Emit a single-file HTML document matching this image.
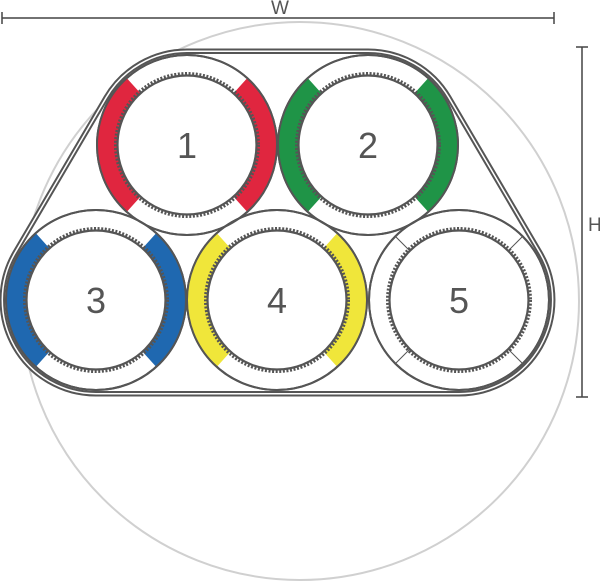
<!DOCTYPE html>
<html><head><meta charset="utf-8"><style>
html,body{margin:0;padding:0;background:#fff;}
svg{display:block;}
text{font-family:"Liberation Sans",sans-serif;fill:#555;}
</style></head><body>
<svg id="s" width="600" height="581" viewBox="0 0 600 581" xmlns="http://www.w3.org/2000/svg">
<circle cx="300" cy="301" r="279" fill="none" stroke="#d0d0d0" stroke-width="2"/>
<g id="g"></g>
<line x1="2" y1="18" x2="554" y2="18" stroke="#444" stroke-width="1.5"/>
<line x1="2" y1="12" x2="2" y2="24" stroke="#444" stroke-width="1.5"/>
<line x1="554" y1="12" x2="554" y2="24" stroke="#444" stroke-width="1.5"/>
<text x="280" y="14" font-size="19" text-anchor="middle">W</text>
<line x1="582" y1="47" x2="582" y2="397" stroke="#444" stroke-width="1.5"/>
<line x1="576" y1="47" x2="588" y2="47" stroke="#444" stroke-width="1.5"/>
<line x1="576" y1="397" x2="588" y2="397" stroke="#444" stroke-width="1.5"/>
<text x="588" y="231" font-size="19">H</text>
<text x="187" y="158" font-size="36" text-anchor="middle">1</text>
<text x="368" y="158" font-size="36" text-anchor="middle">2</text>
<text x="96" y="313" font-size="36" text-anchor="middle">3</text>
<text x="277" y="313" font-size="36" text-anchor="middle">4</text>
<text x="459" y="313" font-size="36" text-anchor="middle">5</text>
</svg>
<script>
var g=document.getElementById('g'),h='';
var C=[[187,145,'#e0263f'],[368,145,'#1f9447'],[96,300,'#1f68b0'],[277,300,'#f0e63a'],[459,300,null]];
function P(c,r,a){a=a*Math.PI/180;return (c[0]+r*Math.cos(a)).toFixed(2)+' '+(c[1]+r*Math.sin(a)).toFixed(2);}
function hull(R){
 var c1=C[0],c2=C[1],c3=C[2],c5=C[4];
 var n1=[-0.862,-0.506],n2=[0.862,-0.506];
 function q(c,n){return (c[0]+R*n[0]).toFixed(2)+' '+(c[1]+R*n[1]).toFixed(2);}
 return 'M'+q(c3,n1)+' L'+q(c1,n1)+' A'+R+' '+R+' 0 0 1 '+c1[0]+' '+(c1[1]-R)+
 ' L'+c2[0]+' '+(c2[1]-R)+' A'+R+' '+R+' 0 0 1 '+q(c2,n2)+' L'+q(c5,n2)+
 ' A'+R+' '+R+' 0 0 1 '+c5[0]+' '+(c5[1]+R)+' L'+c3[0]+' '+(c3[1]+R)+
 ' A'+R+' '+R+' 0 0 1 '+q(c3,n1)+'Z';
}
h+='<path d="'+hull(95.5)+'" fill="#fff" stroke="#555" stroke-width="2"/>';
h+='<path d="'+hull(92)+'" fill="#fff" stroke="#555" stroke-width="2"/>';
C.forEach(function(c){
 h+='<circle cx="'+c[0]+'" cy="'+c[1]+'" r="90" fill="#fff" stroke="#555" stroke-width="2"/>';
});
C.forEach(function(c){
 if(c[2]){
  [[132,228],[-48,48]].forEach(function(a){
   h+='<path d="M'+P(c,60,a[0])+' L'+P(c,90,a[0])+' A90 90 0 0 1 '+P(c,90,a[1])+' L'+P(c,60,a[1])+' A60 60 0 0 0 '+P(c,60,a[0])+'Z" fill="'+c[2]+'"/>';
  });
 } else {
  [45,135,225,315].forEach(function(a){
   var p1=P(c,70,a).split(' '),p2=P(c,90,a).split(' ');
   h+='<line x1="'+p1[0]+'" y1="'+p1[1]+'" x2="'+p2[0]+'" y2="'+p2[1]+'" stroke="#555" stroke-width="1"/>';
  });
 }
 h+='<circle cx="'+c[0]+'" cy="'+c[1]+'" r="90" fill="none" stroke="#555" stroke-width="2"/>';
 h+='<circle cx="'+c[0]+'" cy="'+c[1]+'" r="71.5" fill="none" stroke="#555" stroke-width="3" stroke-dasharray="2 1.6"/>';
 h+='<circle cx="'+c[0]+'" cy="'+c[1]+'" r="69.5" fill="#fff" stroke="#555" stroke-width="2.2"/>';
});
g.innerHTML=h;
</script>
</body></html>
